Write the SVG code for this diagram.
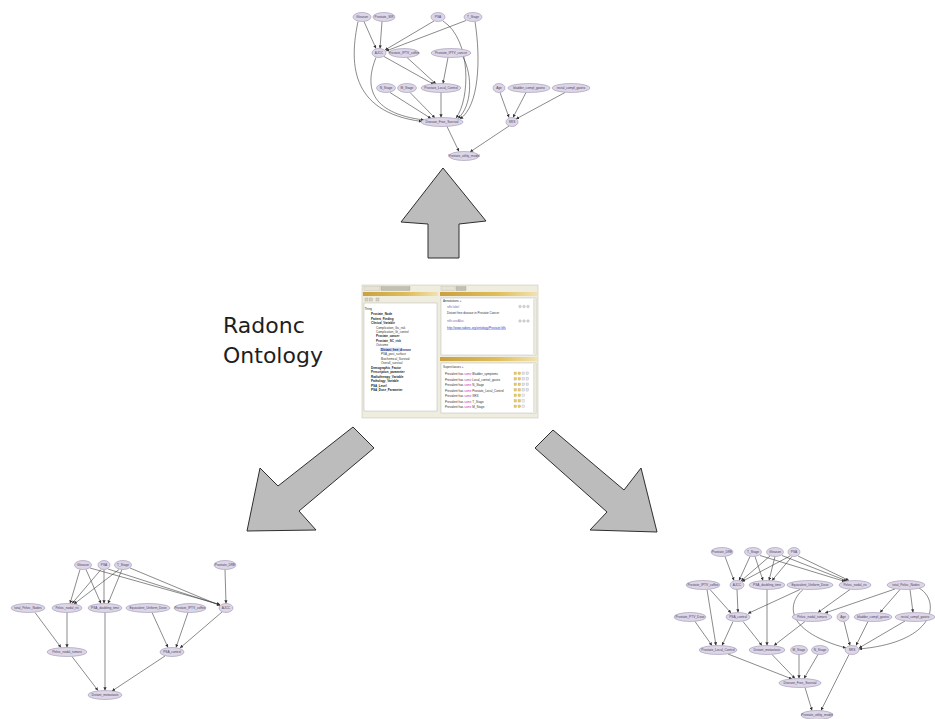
<svg xmlns="http://www.w3.org/2000/svg" width="935" height="719" viewBox="0 0 935 719">
<defs>
<marker id="ah" viewBox="0 0 6 6" refX="6" refY="3" markerWidth="3.2" markerHeight="3.2" markerUnits="userSpaceOnUse" orient="auto"><path d="M0,0L6,3L0,6z" fill="#333"/></marker>
<linearGradient id="gold" x1="0" y1="0" x2="1" y2="0"><stop offset="0" stop-color="#caa040"/><stop offset="0.6" stop-color="#e0be5c"/><stop offset="1" stop-color="#f1e2b0"/></linearGradient>
</defs>
<style>
.n ellipse{fill:#dcd6e7;stroke:#9d93b4;stroke-width:0.6}
.n text{font-family:"Liberation Sans",Arial,sans-serif;font-size:3.2px;fill:#4a4458;text-anchor:middle}
.e path,.e line{stroke:#3c3c3c;stroke-width:0.6;fill:none;marker-end:url(#ah)}
.big{fill:#bcbcbc;stroke:#2e2e2e;stroke-width:1;stroke-linejoin:round}
.t{font-family:"Liberation Sans",Arial,sans-serif;font-size:3px;fill:#333}
.tb{font-family:"Liberation Sans",Arial,sans-serif;font-size:3px;fill:#222;font-weight:bold}
.title{font-family:"DejaVu Sans",sans-serif;font-size:22px;fill:#1e1e1e}
</style>
<rect width="935" height="719" fill="#ffffff"/>

<!-- big arrows -->
<g id="big-arrows">
<polygon class="big" points="443,168 486,221 459,224 459,258 428,258 428,224 401,222"/>
<polygon class="big" points="353,427 374,448 299,511 316,530 247,531 260,468 278,486"/>
<polygon class="big" points="553,430 624,490 641,468 657,532 590,530 607,512 535,448"/>
</g>

<!-- title -->
<g id="label-radonc">
<text class="title" x="223" y="333">Radonc</text>
<text class="title" x="223" y="363">Ontology</text>
</g>

<!-- Protege screenshot -->
<g id="protege-screenshot">
<rect x="362" y="285" width="176" height="133" fill="#efeddf" stroke="#c9c5b2" stroke-width="0.6"/>
<rect x="364" y="286.5" width="16" height="4" fill="#e6e3d4" stroke="#b5b2a2" stroke-width="0.3"/>
<rect x="381" y="286.5" width="29" height="4" fill="#c2c0b4" stroke="#9a988c" stroke-width="0.3"/>
<rect x="441" y="286.5" width="14" height="4" fill="#e6e3d4" stroke="#b5b2a2" stroke-width="0.3"/>
<rect x="456" y="286.5" width="10" height="4" fill="#c2c0b4" stroke="#9a988c" stroke-width="0.3"/>
<rect x="363" y="292" width="75" height="4" fill="url(#gold)"/>
<rect x="440" y="292" width="97" height="4" fill="url(#gold)"/>
<rect x="365" y="298" width="3" height="3" fill="#d8d4c0" stroke="#999" stroke-width="0.3"/>
<rect x="369.5" y="298" width="3" height="3" fill="#d8d4c0" stroke="#999" stroke-width="0.3"/>
<rect x="376" y="298" width="3" height="3" fill="#d8d4c0" stroke="#999" stroke-width="0.3"/>
<rect x="364" y="303" width="73" height="108" fill="#ffffff" stroke="#a9a9a9" stroke-width="0.4"/>
<rect x="441" y="298" width="95" height="57" fill="#ffffff" stroke="#a9a9a9" stroke-width="0.4"/>
<rect x="440" y="357" width="97" height="4" fill="url(#gold)"/>
<rect x="441" y="363" width="95" height="50" fill="#ffffff" stroke="#a9a9a9" stroke-width="0.4"/>
<rect x="533" y="299" width="2.5" height="55" fill="#e8e6da"/>
<rect x="533" y="364" width="2.5" height="48" fill="#e8e6da"/>
<rect x="380" y="347.8" width="22" height="3.4" fill="#c8d2ee"/>
<text class="t" x="364.5" y="310">Thing</text>
<text class="tb" x="371" y="315">Prostate_Node</text>
<text class="tb" x="371" y="319.5">Patient_Finding</text>
<text class="tb" x="371" y="324">Clinical_Variable</text>
<text class="t" x="376" y="328.5">Complication_Gu_risk</text>
<text class="t" x="376" y="333">Complication_Gi_control</text>
<text class="tb" x="376" y="337">Prostate_cancer</text>
<text class="tb" x="376" y="341.5">Prostate_SC_risk</text>
<text class="t" x="376" y="346">Outcome</text>
<text class="tb" x="381" y="350.5" fill="#1a2a80" style="fill:#1a2a80">Distant_free_disease</text>
<text class="t" x="381" y="355">PSA_post_surface</text>
<text class="t" x="381" y="359.5">Biochemical_Survival</text>
<text class="t" x="381" y="364">Overall_survival</text>
<text class="tb" x="371" y="368.5">Demographic_Factor</text>
<text class="tb" x="371" y="373">Prescription_parameter</text>
<text class="tb" x="371" y="377.5">Radiotherapy_Variable</text>
<text class="tb" x="371" y="382">Pathology_Variable</text>
<text class="tb" x="371" y="386.5">PSA_Level</text>
<text class="tb" x="371" y="391">PSA_Dose_Parameter</text>
<text class="t" x="443" y="302">Annotations +</text>
<text class="t" x="447" y="307.5" style="fill:#6a78b0">rdfs:label</text>
<text class="t" x="447" y="314">Distant free disease in Prostate Cancer</text>
<text class="t" x="447" y="322" style="fill:#6a78b0">rdfs:seeAlso</text>
<text class="t" x="447" y="328.5" style="fill:#2b3fd0;text-decoration:underline">http://www.radonc.org/ontology/Prostate#dfs</text>
<g fill="#d9d9d9" stroke="#999" stroke-width="0.3">
<circle cx="520" cy="306.5" r="1.3"/><circle cx="524" cy="306.5" r="1.3"/><circle cx="528" cy="306.5" r="1.3"/>
<circle cx="520" cy="321" r="1.3"/><circle cx="524" cy="321" r="1.3"/><circle cx="528" cy="321" r="1.3"/>
</g>
<text class="t" x="443" y="367.5">Superclasses +</text>
<g class="t">
<text class="t" x="445" y="375">Prevalent has <tspan style="fill:#c040c0">some</tspan> Bladder_symptoms</text>
<text class="t" x="445" y="380.5">Prevalent has <tspan style="fill:#c040c0">some</tspan> Local_control_gastro</text>
<text class="t" x="445" y="386">Prevalent has <tspan style="fill:#c040c0">some</tspan> N_Stage</text>
<text class="t" x="445" y="391.5">Prevalent has <tspan style="fill:#c040c0">some</tspan> Prostate_Local_Control</text>
<text class="t" x="445" y="397">Prevalent has <tspan style="fill:#c040c0">some</tspan> SRS</text>
<text class="t" x="445" y="402.5">Prevalent has <tspan style="fill:#c040c0">some</tspan> T_Stage</text>
<text class="t" x="445" y="408">Prevalent has <tspan style="fill:#c040c0">some</tspan> M_Stage</text>
</g>
<g stroke-width="0.3" stroke="#aaa">
<rect x="514" y="372" width="2.6" height="2.6" fill="#f2c94c"/><rect x="518" y="372" width="2.6" height="2.6" fill="#f2c94c"/><rect x="522" y="372" width="2.6" height="2.6" fill="#dde4ee"/><rect x="526" y="372" width="2.6" height="2.6" fill="#dde4ee"/>
<rect x="514" y="377.5" width="2.6" height="2.6" fill="#f2c94c"/><rect x="518" y="377.5" width="2.6" height="2.6" fill="#f2c94c"/><rect x="522" y="377.5" width="2.6" height="2.6" fill="#dde4ee"/><rect x="526" y="377.5" width="2.6" height="2.6" fill="#dde4ee"/>
<rect x="514" y="383" width="2.6" height="2.6" fill="#f2c94c"/><rect x="518" y="383" width="2.6" height="2.6" fill="#f2c94c"/><rect x="522" y="383" width="2.6" height="2.6" fill="#dde4ee"/><rect x="526" y="383" width="2.6" height="2.6" fill="#dde4ee"/>
<rect x="514" y="388.5" width="2.6" height="2.6" fill="#f2c94c"/><rect x="518" y="388.5" width="2.6" height="2.6" fill="#f2c94c"/><rect x="522" y="388.5" width="2.6" height="2.6" fill="#dde4ee"/><rect x="526" y="388.5" width="2.6" height="2.6" fill="#dde4ee"/>
<rect x="514" y="394" width="2.6" height="2.6" fill="#f2c94c"/><rect x="518" y="394" width="2.6" height="2.6" fill="#f2c94c"/><rect x="522" y="394" width="2.6" height="2.6" fill="#eeeeee"/>
<rect x="514" y="399.5" width="2.6" height="2.6" fill="#f2c94c"/><rect x="518" y="399.5" width="2.6" height="2.6" fill="#f2c94c"/><rect x="522" y="399.5" width="2.6" height="2.6" fill="#eeeeee"/>
<rect x="514" y="405" width="2.6" height="2.6" fill="#f2c94c"/><rect x="518" y="405" width="2.6" height="2.6" fill="#f2c94c"/><rect x="522" y="405" width="2.6" height="2.6" fill="#eeeeee"/>
</g>
</g>

<!-- ================= TOP GRAPH ================= -->
<g id="top-connectors" class="e">
<line x1="364" y1="21.5" x2="376" y2="48.5"/>
<line x1="382" y1="21.5" x2="380" y2="48.5"/>
<line x1="434" y1="21" x2="385" y2="50"/>
<line x1="466" y1="20.5" x2="386" y2="51"/>
<path d="M358,21.5 C350,60 348,112 422,121.5"/>
<path d="M376,57.5 C365,85 368,113 424,120"/>
<line x1="384" y1="56.5" x2="434" y2="84.5"/>
<line x1="407" y1="57.5" x2="436" y2="84"/>
<line x1="448" y1="57.5" x2="443" y2="83.5"/>
<path d="M443,21 C472,40 470,100 456,118"/>
<path d="M475,21.5 C481,60 479,106 460,119"/>
<path d="M463,57 C473,76 472,106 458,118.5"/>
<line x1="390" y1="92.5" x2="431" y2="118.5"/>
<line x1="410" y1="92.5" x2="435" y2="118"/>
<line x1="441" y1="92.5" x2="441" y2="117.5"/>
<line x1="500" y1="92.5" x2="509" y2="117.5"/>
<line x1="526" y1="92.5" x2="513" y2="117.5"/>
<line x1="565" y1="92.5" x2="516" y2="119"/>
<line x1="447" y1="126.5" x2="459" y2="151.5"/>
<line x1="509" y1="126" x2="470" y2="152"/>
</g>
<g id="top-Gleason" class="n"><ellipse cx="362" cy="17" rx="9" ry="4.5"/><text x="362" y="18.1">Gleason</text></g>
<g id="top-Prostate_SIR" class="n"><ellipse cx="384" cy="17" rx="11" ry="4.5"/><text x="384" y="18.1">Prostate_SIR</text></g>
<g id="top-PSA" class="n"><ellipse cx="438" cy="17" rx="7" ry="4.5"/><text x="438" y="18.1">PSA</text></g>
<g id="top-T_Stage" class="n"><ellipse cx="473" cy="17" rx="9" ry="4.5"/><text x="473" y="18.1">T_Stage</text></g>
<g id="top-AJCC" class="n"><ellipse cx="379" cy="53" rx="7" ry="4.5"/><text x="379" y="54.1">AJCC</text></g>
<g id="top-Prostate_IPTV_coffee" class="n"><ellipse cx="404" cy="53" rx="15" ry="4.5"/><text x="404" y="54.1">Prostate_IPTV_coffee</text></g>
<g id="top-Prostate_IPTV_cancer" class="n"><ellipse cx="451" cy="53" rx="20" ry="4.5"/><text x="451" y="54.1">Prostate_IPTV_cancer</text></g>
<g id="top-N_Stage" class="n"><ellipse cx="386" cy="88" rx="9.5" ry="4.5"/><text x="386" y="89.1">N_Stage</text></g>
<g id="top-M_Stage" class="n"><ellipse cx="407" cy="88" rx="9.5" ry="4.5"/><text x="407" y="89.1">M_Stage</text></g>
<g id="top-Prostate_Local_Control" class="n"><ellipse cx="441" cy="88" rx="20" ry="4.5"/><text x="441" y="89.1">Prostate_Local_Control</text></g>
<g id="top-Age" class="n"><ellipse cx="499" cy="88" rx="6" ry="4.5"/><text x="499" y="89.1">Age</text></g>
<g id="top-bladder" class="n"><ellipse cx="529" cy="88" rx="21" ry="4.5"/><text x="529" y="89.1">bladder_compl_gastro</text></g>
<g id="top-rectal" class="n"><ellipse cx="571" cy="88" rx="19" ry="4.5"/><text x="571" y="89.1">rectal_compl_gastro</text></g>
<g id="top-Disease_Free_Survival" class="n"><ellipse cx="442" cy="122" rx="21" ry="4.5"/><text x="442" y="123.1">Disease_Free_Survival</text></g>
<g id="top-SRS" class="n"><ellipse cx="512" cy="122" rx="6" ry="4.5"/><text x="512" y="123.1">SRS</text></g>
<g id="top-utility" class="n"><ellipse cx="464" cy="156" rx="15" ry="4.5"/><text x="464" y="157.1">Prostate_utility_model</text></g>

<!-- ================= BOTTOM-LEFT GRAPH ================= -->
<g id="bl-connectors" class="e">
<line x1="80" y1="569.5" x2="70" y2="603.5"/>
<line x1="86" y1="569.5" x2="101" y2="603.5"/>
<line x1="90" y1="568" x2="220" y2="604.5"/>
<line x1="101" y1="569.5" x2="72" y2="603.5"/>
<line x1="104" y1="569.5" x2="104" y2="603.5"/>
<line x1="108" y1="569" x2="220" y2="605"/>
<line x1="119" y1="569.5" x2="74" y2="604"/>
<line x1="122" y1="569.5" x2="108" y2="603.5"/>
<line x1="130" y1="568" x2="220" y2="605.5"/>
<line x1="225" y1="569.5" x2="226" y2="603.5"/>
<line x1="35" y1="612.5" x2="61" y2="647.5"/>
<line x1="67" y1="612.5" x2="67" y2="647.5"/>
<line x1="105" y1="612.5" x2="105" y2="690.5"/>
<line x1="152" y1="612.5" x2="168" y2="647.5"/>
<line x1="188" y1="612.5" x2="176" y2="647.5"/>
<line x1="222" y1="612" x2="180" y2="648"/>
<line x1="72" y1="656.5" x2="98" y2="690.5"/>
<line x1="165" y1="656" x2="112" y2="691"/>
</g>
<g id="bl-Gleason" class="n"><ellipse cx="83" cy="565" rx="8.5" ry="4.5"/><text x="83" y="566.1">Gleason</text></g>
<g id="bl-PSA" class="n"><ellipse cx="104" cy="565" rx="6" ry="4.5"/><text x="104" y="566.1">PSA</text></g>
<g id="bl-T_Stage" class="n"><ellipse cx="123" cy="565" rx="8.5" ry="4.5"/><text x="123" y="566.1">T_Stage</text></g>
<g id="bl-Prostate_DRE" class="n"><ellipse cx="225" cy="565" rx="11" ry="4.5"/><text x="225" y="566.1">Prostate_DRE</text></g>
<g id="bl-total_Pelvic_Nodes" class="n"><ellipse cx="28" cy="608" rx="17" ry="4.5"/><text x="28" y="609.1">total_Pelvic_Nodes</text></g>
<g id="bl-Pelvic_nodal_ris" class="n"><ellipse cx="67" cy="608" rx="15" ry="4.5"/><text x="67" y="609.1">Pelvic_nodal_ris</text></g>
<g id="bl-PSA_doubling_time" class="n"><ellipse cx="105" cy="608" rx="17" ry="4.5"/><text x="105" y="609.1">PSA_doubling_time</text></g>
<g id="bl-Equivalent_Uniform_Dose" class="n"><ellipse cx="148" cy="608" rx="22" ry="4.5"/><text x="148" y="609.1">Equivalent_Uniform_Dose</text></g>
<g id="bl-Prostate_IPTV_coffee" class="n"><ellipse cx="190" cy="608" rx="16" ry="4.5"/><text x="190" y="609.1">Prostate_IPTV_coffee</text></g>
<g id="bl-AJCC" class="n"><ellipse cx="226" cy="608" rx="7" ry="4.5"/><text x="226" y="609.1">AJCC</text></g>
<g id="bl-Pelvic_nodal_tumors" class="n"><ellipse cx="67" cy="652" rx="20" ry="4.5"/><text x="67" y="653.1">Pelvic_nodal_tumors</text></g>
<g id="bl-PSA_control" class="n"><ellipse cx="172" cy="652" rx="12" ry="4.5"/><text x="172" y="653.1">PSA_control</text></g>
<g id="bl-Distant_metastasis" class="n"><ellipse cx="105" cy="695" rx="17" ry="4.5"/><text x="105" y="696.1">Distant_metastasis</text></g>

<!-- ================= BOTTOM-RIGHT GRAPH ================= -->
<g id="br-connectors" class="e">
<line x1="725" y1="556.5" x2="734" y2="580.5"/>
<line x1="750" y1="556.5" x2="739" y2="580.5"/>
<line x1="755" y1="556.5" x2="763" y2="580.5"/>
<line x1="760" y1="555.5" x2="845" y2="581.5"/>
<line x1="770" y1="556" x2="741" y2="581"/>
<line x1="775" y1="556.5" x2="769" y2="580.5"/>
<line x1="782" y1="555.5" x2="847" y2="581"/>
<line x1="790" y1="556" x2="742" y2="581.5"/>
<line x1="792" y1="556.5" x2="772" y2="580.5"/>
<line x1="798" y1="556" x2="849" y2="580.5"/>
<line x1="710" y1="589.5" x2="731" y2="613"/>
<line x1="707" y1="589.5" x2="716" y2="645.5"/>
<line x1="737" y1="589.5" x2="738" y2="612.5"/>
<line x1="767" y1="589.5" x2="767" y2="645.5"/>
<line x1="800" y1="589.5" x2="748" y2="613.5"/>
<path d="M803,589.5 C785,606 788,632 846,648"/>
<line x1="850" y1="589.5" x2="818" y2="612.5"/>
<line x1="895" y1="589" x2="825" y2="613"/>
<line x1="900" y1="589.5" x2="880" y2="612.5"/>
<line x1="910" y1="589.5" x2="913" y2="612.5"/>
<path d="M919,588 C940,600 938,642 859,649"/>
<line x1="695" y1="621.5" x2="712" y2="645.5"/>
<line x1="733" y1="621.5" x2="722" y2="645.5"/>
<line x1="743" y1="621.5" x2="762" y2="645.5"/>
<line x1="805" y1="621.5" x2="774" y2="645.5"/>
<line x1="844" y1="621.5" x2="850" y2="645.5"/>
<line x1="868" y1="621.5" x2="856" y2="645.5"/>
<line x1="905" y1="621" x2="859" y2="648"/>
<line x1="728" y1="654" x2="792" y2="679"/>
<line x1="772" y1="654.5" x2="795" y2="678.5"/>
<line x1="799" y1="654.5" x2="799" y2="678.5"/>
<line x1="818" y1="654.5" x2="804" y2="678.5"/>
<line x1="805" y1="687.5" x2="812" y2="710.5"/>
<line x1="849" y1="654.5" x2="821" y2="710.5"/>
</g>
<g id="br-Prostate_DRE" class="n"><ellipse cx="722" cy="552" rx="11" ry="4.5"/><text x="722" y="553.1">Prostate_DRE</text></g>
<g id="br-T_Stage" class="n"><ellipse cx="753" cy="552" rx="8.5" ry="4.5"/><text x="753" y="553.1">T_Stage</text></g>
<g id="br-Gleason" class="n"><ellipse cx="775" cy="552" rx="8.5" ry="4.5"/><text x="775" y="553.1">Gleason</text></g>
<g id="br-PSA" class="n"><ellipse cx="794" cy="552" rx="6" ry="4.5"/><text x="794" y="553.1">PSA</text></g>
<g id="br-Prostate_IPTV_coffee" class="n"><ellipse cx="703" cy="585" rx="17" ry="4.5"/><text x="703" y="586.1">Prostate_IPTV_coffee</text></g>
<g id="br-AJCC" class="n"><ellipse cx="737" cy="585" rx="7" ry="4.5"/><text x="737" y="586.1">AJCC</text></g>
<g id="br-PSA_doubling_time" class="n"><ellipse cx="767" cy="585" rx="18" ry="4.5"/><text x="767" y="586.1">PSA_doubling_time</text></g>
<g id="br-Equivalent_Uniform_Dose" class="n"><ellipse cx="810" cy="585" rx="23" ry="4.5"/><text x="810" y="586.1">Equivalent_Uniform_Dose</text></g>
<g id="br-Pelvic_nodal_ris" class="n"><ellipse cx="855" cy="585" rx="16" ry="4.5"/><text x="855" y="586.1">Pelvic_nodal_ris</text></g>
<g id="br-total_Pelvic_Nodes" class="n"><ellipse cx="906" cy="585" rx="19" ry="4.5"/><text x="906" y="586.1">total_Pelvic_Nodes</text></g>
<g id="br-Prostate_PTV_Dose" class="n"><ellipse cx="690" cy="617" rx="16" ry="4.5"/><text x="690" y="618.1">Prostate_PTV_Dose</text></g>
<g id="br-PSA_control" class="n"><ellipse cx="738" cy="617" rx="12" ry="4.5"/><text x="738" y="618.1">PSA_control</text></g>
<g id="br-Pelvic_nodal_tumors" class="n"><ellipse cx="812" cy="617" rx="20" ry="4.5"/><text x="812" y="618.1">Pelvic_nodal_tumors</text></g>
<g id="br-Age" class="n"><ellipse cx="843" cy="617" rx="6" ry="4.5"/><text x="843" y="618.1">Age</text></g>
<g id="br-bladder" class="n"><ellipse cx="873" cy="617" rx="19" ry="4.5"/><text x="873" y="618.1">bladder_compl_gastro</text></g>
<g id="br-rectal" class="n"><ellipse cx="915" cy="617" rx="20" ry="4.5"/><text x="915" y="618.1">rectal_compl_gastro</text></g>
<g id="br-Prostate_Local_Control" class="n"><ellipse cx="718" cy="650" rx="19" ry="4.5"/><text x="718" y="651.1">Prostate_Local_Control</text></g>
<g id="br-Distant_metastasis" class="n"><ellipse cx="767" cy="650" rx="18" ry="4.5"/><text x="767" y="651.1">Distant_metastasis</text></g>
<g id="br-M_Stage" class="n"><ellipse cx="799" cy="650" rx="8.5" ry="4.5"/><text x="799" y="651.1">M_Stage</text></g>
<g id="br-N_Stage" class="n"><ellipse cx="820" cy="650" rx="8.5" ry="4.5"/><text x="820" y="651.1">N_Stage</text></g>
<g id="br-SRS" class="n"><ellipse cx="852" cy="650" rx="7" ry="4.5"/><text x="852" y="651.1">SRS</text></g>
<g id="br-Disease_Free_Survival" class="n"><ellipse cx="800" cy="683" rx="21" ry="4.5"/><text x="800" y="684.1">Disease_Free_Survival</text></g>
<g id="br-utility" class="n"><ellipse cx="817" cy="715" rx="16" ry="4.5"/><text x="817" y="716.1">Prostate_utility_model</text></g>
</svg>
